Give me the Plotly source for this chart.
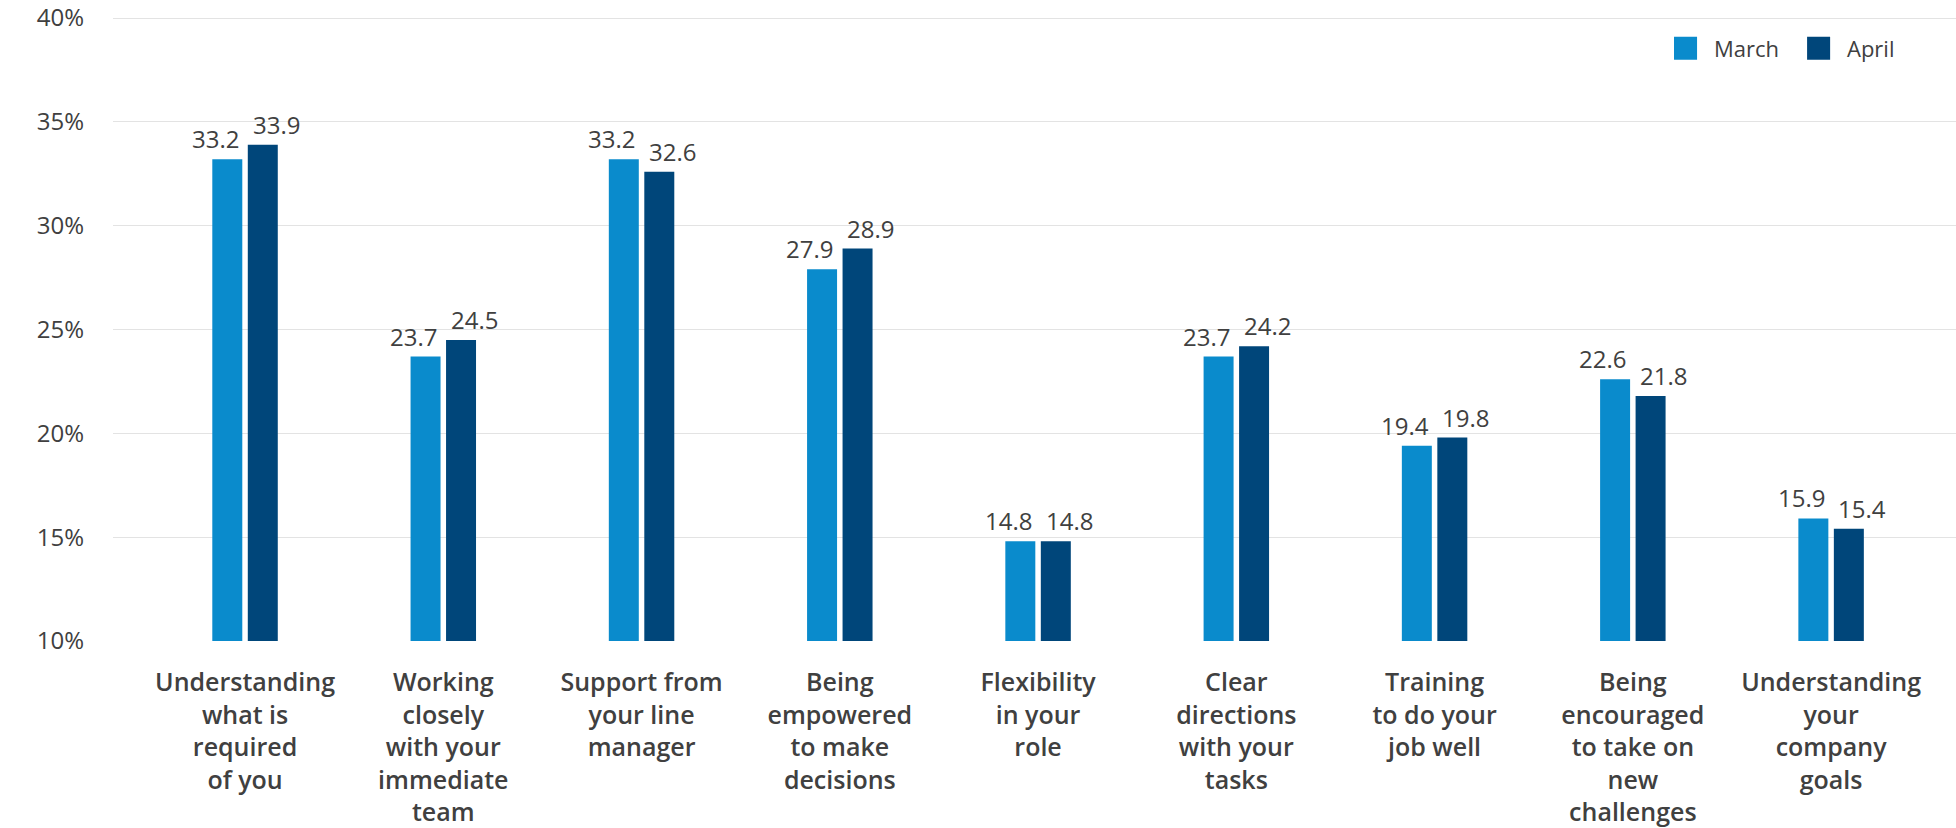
import plotly.graph_objects as go

# Survey items (category axis labels, wrapped onto several lines)
categories = [
    "Understanding<br>what is<br>required<br>of you",
    "Working<br>closely<br>with your<br>immediate<br>team",
    "Support from<br>your line<br>manager",
    "Being<br>empowered<br>to make<br>decisions",
    "Flexibility<br>in your<br>role",
    "Clear<br>directions<br>with your<br>tasks",
    "Training<br>to do your<br>job well",
    "Being<br>encouraged<br>to take on<br>new<br>challenges",
    "Understanding<br>your<br>company<br>goals",
]

march = [33.2, 23.7, 33.2, 27.9, 14.8, 23.7, 19.4, 22.6, 15.9]
april = [33.9, 24.5, 32.6, 28.9, 14.8, 24.2, 19.8, 21.8, 15.4]

y_ticks = [10, 15, 20, 25, 30, 35, 40]
y_tick_text = [f"{t}%" for t in y_ticks]

series = [
    ("March", march, "#0a8bcc", -30),
    ("April", april, "#00467a", 31),
]

FONT = "Open Sans"
TEXT_COLOR = "#404040"

fig = go.Figure()
for name, values, color, _ in series:
    fig.add_trace(go.Bar(
        name=name,
        x=categories,
        y=values,
        base=0,
        marker=dict(color=color, line=dict(width=0)),
        showlegend=False,
        hoverinfo="x+y",
    ))

# Value labels above each bar, nudged apart so neighbours don't collide
annotations = []
for name, values, color, shift in series:
    for cat, v in zip(categories, values):
        annotations.append(dict(
            x=cat, y=v, xref="x", yref="y",
            text=f"{v:.1f}", showarrow=False,
            xanchor="center", yanchor="bottom",
            xshift=shift, yshift=2,
            font=dict(family=FONT, size=24, color=TEXT_COLOR),
        ))

# Legend drawn as swatches + labels in the top-right corner
legend_items = [
    ("March", "#0a8bcc", 0.847, 0.8676),
    ("April", "#00467a", 0.9192, 0.9398),
]
shapes = []
for name, color, x0, tx in legend_items:
    shapes.append(dict(
        type="rect", xref="paper", yref="paper",
        x0=x0, x1=x0 + 0.0125, y0=0.9300, y1=0.9668,
        fillcolor=color, line=dict(width=0),
    ))
    annotations.append(dict(
        x=tx, y=0.9484, xref="paper", yref="paper",
        text=name, showarrow=False, xanchor="left", yanchor="middle",
        font=dict(family=FONT, size=22, color=TEXT_COLOR),
    ))

fig.update_layout(
    width=1956, height=828,
    margin=dict(l=113, r=0, t=14, b=186, pad=0),
    paper_bgcolor="white", plot_bgcolor="white",
    barmode="group", bargap=0.642, bargroupgap=0.155,
    font=dict(family=FONT, size=24, color=TEXT_COLOR),
    annotations=annotations,
    shapes=shapes,
    showlegend=False,
)

fig.update_xaxes(
    type="category",
    range=[-0.666, 8.63],
    showgrid=False, zeroline=False, showline=False,
    ticks="", ticklabelstandoff=24,
    tickfont=dict(family=FONT, size=25, color=TEXT_COLOR, weight=600),
)

fig.update_yaxes(
    range=[10, 40.1],
    tickvals=y_ticks, ticktext=y_tick_text,
    showgrid=True, gridcolor="#e3e3e3", gridwidth=1.3,
    zeroline=False, showline=False,
    ticks="", ticklabelstandoff=28, ticklabeloverflow="allow",
    tickfont=dict(family=FONT, size=24, color=TEXT_COLOR),
)

fig.write_html("out.html")
